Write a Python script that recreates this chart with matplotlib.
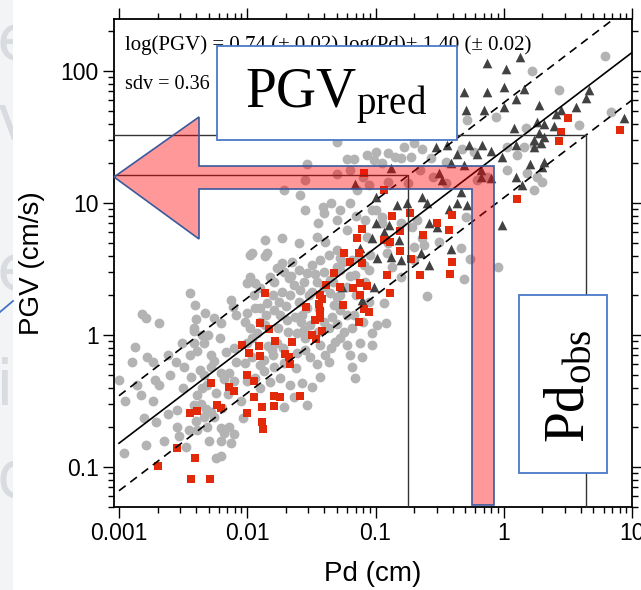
import numpy as np
import matplotlib
matplotlib.use("Agg")
import matplotlib.pyplot as plt
from matplotlib.patches import Polygon, Rectangle
from matplotlib.transforms import Affine2D
from matplotlib.lines import Line2D

plt.rcParams['mathtext.fontset'] = 'custom'
plt.rcParams['mathtext.rm'] = 'Liberation Serif'
plt.rcParams['mathtext.it'] = 'Liberation Serif:italic'

# ---------------------------------------------------------------- data (log10)
gray_log_pd = [
    -2.878, -2.896, -2.779, -2.732, -2.617, -2.557, -2.492, -2.388, -2.414, -2.505,
    -2.336, -2.349, -2.305, -2.414, -2.211, -2.284, -2.258, -2.167, -2.372, -2.341,
    -2.440, -3.000, -2.857, -2.831, -2.721, -2.685, -2.732, -2.206, -2.141, -2.180,
    -2.315, -2.245, -2.284, -2.089, -2.544, -2.388, -2.414, -2.357, -2.318, -2.284,
    -2.258, -2.336, -2.401, -2.453, -2.531, -2.388, -2.310, -2.206, -2.141, -2.102,
    -2.180, -2.128, -2.206, -2.805, -2.714, -2.792, -2.961, -2.206, -2.036, -2.245,
    -2.445, -2.409, -2.331, -2.401, -2.258, -2.206, -2.128, -2.115, -2.818, -2.792,
    -2.687, -2.419, -2.089,
    -1.977, -1.860, -1.729, -1.651, -1.769, -1.716, -1.977, -2.003, -1.938, -1.899,
    -1.821, -1.795, -1.677, -1.599, -1.534, -1.495, -1.430, -1.365, -1.300, -1.274,
    -1.456, -1.404, -1.352, -1.495, -1.586, -1.638, -1.664, -1.729, -1.847, -1.938,
    -2.003, -2.016, -1.899, -1.795, -1.977, -1.925, -1.860, -1.742, -1.690, -1.625,
    -1.573, -1.534, -1.352, -1.300, -1.326, -1.274, -1.222, -1.274, -1.183, -1.157,
    -1.091, -1.052, -1.039, -2.003, -1.964, -2.016, -1.873, -1.808, -1.769, -1.612,
    -1.560, -1.508, -1.404, -1.339, -1.365, -1.222, -1.170, -1.248, -1.274, -1.222,
    -1.313, -1.430, -1.391, -1.508, -1.547, -1.612, -1.716, -1.795, -1.873, -1.938,
    -1.821, -1.742, -1.664, -1.573, -1.495, -1.430, -1.365, -1.183, -1.157, -1.117,
    -1.026, -1.026, -0.987, -1.638, -1.716, -1.534, -1.102,
    -1.950, -1.900, -1.850, -1.800, -1.750, -1.700, -1.660, -1.600, -1.560, -1.520,
    -1.470, -1.440, -1.400, -1.330, -1.280, -1.250, -1.200, -1.150, -1.120, -1.080,
    -1.050, -1.960, -1.900, -1.840, -1.720, -1.680, -1.620, -1.550, -1.460, -1.350,
    -1.300, -1.180, -1.100, -1.200, -1.450, -1.580, -1.760, -2.000, -1.900, -1.800,
    -2.600, -2.500, -2.450, -2.350, -2.200, -2.150, -2.100, -2.050, -2.620, -2.550,
    -2.480, -2.300, -2.950, -2.650, -2.100,
    -1.300, -1.065, -1.222, -1.170, -1.013, -1.000, -1.534, -1.547, -1.300, -1.716,
    -1.586, -1.143, -1.052, -1.409, -1.399, -1.300, -1.274, -1.222, -1.456, -1.391,
    -1.860, -1.729, -1.964, -1.847, -1.078, -1.026, -1.065, -1.300,
    -1.200, -1.100, -0.950, -0.900, -0.850, -1.350, -1.200, -1.150, -1.000, -0.950,
    -1.450, -1.550, -1.600, -0.900, -0.800, -0.550, -0.450, -0.650, -0.750,
    -0.675, -0.635, -0.701, -0.622, -0.505, -0.336, -0.263, -0.310, -0.596, -0.042,
    -0.935, -0.922, -0.805, -0.870, -0.701, -0.909, -0.948, -0.714, -0.297, -0.206,
    -0.128, -0.899,
    -0.701, -0.779, -0.635, -0.805, -0.727, -0.570, -0.453, -0.323, -0.232, -0.063,
    -0.284, 0.029, 0.107, 0.029,
    0.789, 0.224, 0.432, 0.589, 0.836, 0.172, 0.159, 0.237, 0.185, 0.263,
    0.302, 0.237,
]
gray_log_pgv = [
    -0.093, -0.202, -0.164, -0.207, -0.151, -0.202, -0.245, -0.119, -0.063, -0.063,
    -0.063, 0.000, 0.000, 0.030, -0.025, -0.151, -0.194, -0.126, -0.265, -0.303,
    -0.316, -0.341, -0.379, -0.454, -0.341, -0.379, -0.497, -0.290, -0.290, -0.336,
    -0.379, -0.442, -0.240, -0.202, -0.568, -0.454, -0.530, -0.523, -0.560, -0.581,
    -0.624, -0.624, -0.649, -0.720, -0.765, -0.720, -0.694, -0.707, -0.694, -0.750,
    -0.745, -0.821, -0.800, -0.631, -0.656, -0.833, -0.896, -0.917, -0.631, -0.929,
    0.320, 0.227, 0.169, 0.118, 0.126, 0.088, 0.265, 0.214, 0.159, 0.126,
    0.088, 0.050, 0.151,
    0.606, 0.599, 0.543, 0.556, 0.505, 0.480, 0.442, 0.391, 0.391, 0.354,
    0.442, 0.404, 0.429, 0.492, 0.467, 0.530, 0.568, 0.606, 0.518, 0.581,
    0.404, 0.366, 0.417, 0.328, 0.341, 0.379, 0.303, 0.328, 0.240, 0.202,
    0.164, 0.101, 0.202, 0.189, 0.051, 0.013, 0.076, 0.152, 0.114, 0.139,
    0.152, 0.202, 0.316, 0.290, 0.227, 0.189, 0.366, 0.492, 0.568, 0.455,
    0.530, 0.492, 0.606, -0.063, -0.164, -0.215, -0.189, -0.114, -0.063, 0.013,
    0.038, 0.076, 0.101, 0.139, 0.051, 0.152, 0.152, 0.025, -0.025, -0.076,
    -0.050, -0.076, -0.151, -0.164, -0.114, -0.139, -0.215, -0.240, -0.270, -0.328,
    -0.353, -0.328, -0.379, -0.366, -0.391, -0.316, -0.202, -0.240, -0.328, -0.063,
    0.013, -0.076, 0.076, -0.467, -0.543, -0.530, -0.167,
    0.300, 0.100, 0.150, 0.300, 0.250, 0.220, 0.450, 0.250, 0.400, 0.300,
    0.460, 0.200, 0.480, 0.400, 0.300, 0.550, 0.450, 0.300, 0.580, 0.400,
    0.250, -0.020, -0.230, -0.080, -0.100, 0.020, -0.250, -0.020, -0.220, -0.100,
    0.080, 0.050, 0.100, -0.150, 0.020, 0.100, 0.050, -0.350, -0.400, -0.150,
    -0.300, -0.400, -0.150, -0.400, -0.550, -0.450, -0.350, -0.500, -0.600, -0.700,
    -0.850, -0.800, -0.500, -0.800, -0.100,
    1.465, 1.364, 1.331, 1.331, 1.326, 1.389, 1.296, 1.175, 1.220, 1.099,
    1.061, 1.099, 1.137, 0.968, 0.927, 0.872, 0.947, 0.796, 0.745, 0.707,
    0.720, 0.733, 0.624, 0.619, 0.872, 0.947, 0.745, 0.644,
    1.250, 1.200, 1.300, 1.380, 1.350, 1.000, 1.000, 0.900, 0.950, 0.850,
    0.850, 0.950, 0.700, 0.700, 0.850, 1.200, 1.150, 1.250, 1.150,
    0.871, 0.732, 0.669, 0.682, 0.707, 0.657, 0.573, 0.422, 0.295, 0.518,
    0.240, 0.088, 0.442, 0.518, 0.568, 0.619, 0.896, 0.821, 0.896, 1.174,
    1.199, 1.159,
    1.452, 1.427, 1.407, 1.339, 1.351, 1.339, 1.314, 1.407, 1.389, 1.654,
    1.629, 1.427, 1.364, 1.250,
    2.114, 2.003, 1.856, 1.591, 1.692, 1.566, 1.427, 1.440, 1.225, 1.200,
    1.162, 1.099,
]

tri_log_pd = [
    -0.987, -1.261, -1.013, -1.104,
    -1.157, -1.000, -1.000, -1.026, -1.117, -0.883,
    -0.831, -0.753, -0.635, -0.596, -0.362, -0.284, -0.427, -0.583, -0.518, -0.896,
    -0.935, -0.818, -0.883, -0.805, -0.648, -0.583, -0.414, -0.010, -0.336, -0.479,
    -0.180, -0.102, 0.094,
    -0.133, 0.016, -0.310, -0.128, 0.003, -0.297, -0.154, 0.003, 0.094, -0.271,
    -0.167, -0.531, -0.440, -0.362, -0.206, -0.102, -0.010, 0.094, -0.505, -0.180,
    -0.310, -0.414, 0.081, 0.125,
    0.159, 0.276, 0.667, 0.641, 0.563, 0.445, 0.406, 0.263, 0.315, 0.393,
    0.276, 0.315, 0.237, 0.289, 0.237, 0.146, 0.206, 0.310, 0.302, 0.935,
]
tri_log_pgv = [
    0.581, 0.366, 0.361, 0.265,
    1.144, 1.043, 0.846, 0.733, 0.657, 1.266,
    0.985, 0.997, 1.048, 0.997, 0.997, 0.985, 0.952, 0.846, 0.821, 0.833,
    0.783, 0.720, 0.593, 0.568, 0.619, 0.530, 0.649, 0.833, 1.086, 1.174,
    1.199, 1.187, 1.199,
    2.064, 2.013, 1.844, 1.844, 1.877, 1.705, 1.705, 1.725, 1.786, 1.440,
    1.440, 1.427, 1.440, 1.372, 1.372, 1.397, 1.346, 1.440, 1.230, 1.250,
    1.288, 1.301, 1.566, 2.106,
    1.862, 1.743, 1.856, 1.793, 1.725, 1.705, 1.675, 1.617, 1.599, 1.586,
    1.528, 1.503, 1.478, 1.452, 1.422, 1.137, 1.296, 1.313, 1.271, 1.642,
]

red_log_pd = [
    -2.284, -2.445, -2.393, -2.232, -2.206, -2.549, -2.409, -2.695, -2.435, -2.292,
    -2.141, -2.107, -2.005, -1.885, -1.880,
    -1.196, -1.104, -1.326, -1.383, -1.274, -1.430, -1.417, -1.443, -1.539, -1.430,
    -1.253, -1.175, -1.123, -1.065, -1.123, -1.086, -1.052, -1.130, -1.860, -1.899,
    -1.834, -1.782, -1.651, -1.469, -1.430, -1.417, -1.495, -1.461, -1.703, -1.677,
    -1.664, -1.912, -1.990, -1.899, -2.003, -1.946, -1.951, -1.795, -1.748, -1.586,
    -1.883, -1.795, -2.042,
    -1.086, -1.104, -1.143, -1.248, -1.130,
    -0.870, -0.732, -0.524, -0.427, -0.401, -0.628, -0.810, -0.930, -0.888, -0.810,
    -0.721, -0.654, -0.406, -0.422, -0.914, -0.888, 0.102, -0.930,
    0.498, 0.445, 0.432, 0.906,
]
red_log_pgv = [
    -0.361, -0.593, -0.576, -0.530, -0.555, -0.858, -0.934, -0.992, -1.093, -1.091,
    -0.391, -0.424, -0.588, -0.656, -0.712,
    0.556, 0.543, 0.467, 0.379, 0.361, 0.303, 0.270, 0.235, 0.215, 0.184,
    0.227, 0.354, 0.397, 0.371, 0.303, 0.195, 0.177, 0.101, 0.316, 0.093,
    0.043, -0.043, -0.050, 0.114, 0.126, 0.033, 0.000, -0.033, -0.144, -0.169,
    -0.220, -0.083, -0.134, -0.159, -0.303, -0.346, -0.467, -0.462, -0.467, -0.462,
    -0.548, -0.538, -0.076,
    1.225, 0.801, 0.733, 0.619, 0.624,
    0.902, 0.922, 0.846, 0.795, 0.909, 0.758, 0.790, 0.720, 0.707, 0.639,
    0.573, 0.452, 0.556, 0.462, 0.455, 0.321, 1.033, 1.098,
    1.642, 1.541, 1.473, 1.553,
]

# regression  log(PGV) = a log(Pd) + b,  standard deviation sdv
slope, intercept, sdv = 0.74, 1.40, 0.36
pd_obs = [0.18, 4.4]          # observed Pd values picked out (cm)
pd_line = [0.001, 10.0]

x_ticks = [0.001, 0.01, 0.1, 1, 10]
x_tick_labels = ["0.001", "0.01", "0.1", "1", "10"]
y_ticks = [0.1, 1, 10, 100]
y_tick_labels = ["0.1", "1", "10", "100"]

# ---------------------------------------------------------------- figure
W, H = 641, 590
fig = plt.figure(figsize=(W / 100, H / 100), dpi=100)
fig.patch.set_facecolor("white")
px = Affine2D().scale(1.0 / W, -1.0 / H).translate(0, 1) + fig.transFigure

# pale slide margin on the far left with partly hidden lettering
strip = Rectangle((0, 0), 13, H, transform=px, facecolor="#f3f4f6",
                  edgecolor="none", zorder=0)
fig.add_artist(strip)
for ch, yy in [("e", 42), ("v", 122), ("e", 272), ("i", 388), ("d", 478)]:
    t = fig.text(-4 / W, 1 - yy / H, ch, fontsize=46, color="#d8dbe0",
                 family="DejaVu Sans", ha="left", va="center", zorder=0.5)
    t.set_clip_path(strip)
fig.add_artist(Line2D([0, 13], [312, 301], transform=px, color="#4472c4",
                      lw=1.3, zorder=0.6))

ax = fig.add_axes([114 / W, 1 - 507 / H, 518 / W, 488 / H])
ax.set_xscale("log")
ax.set_yscale("log")
ax.set_xlim(10 ** -3.039, 10)
ax.set_ylim(10 ** -1.303, 10 ** 2.394)

ax.scatter(10 ** np.array(gray_log_pd), 10 ** np.array(gray_log_pgv), s=50,
           marker="o", color="#b3b3b3", linewidths=0, zorder=2)
ax.scatter(10 ** np.array(tri_log_pd), 10 ** np.array(tri_log_pgv), s=48,
           marker="^", color="#424242", linewidths=0, zorder=3)
ax.scatter(10 ** np.array(red_log_pd), 10 ** np.array(red_log_pgv), s=30,
           marker="s", color="#e2290a", linewidths=0, zorder=4)

lp = np.log10(pd_line)
fit = slope * lp + intercept
ax.plot(pd_line, 10 ** fit, color="black", lw=1.2, zorder=5)
for off in (sdv, -sdv):
    ax.plot(pd_line, 10 ** (fit + off), color="black", lw=1.2,
            ls=(0, (5, 3.5)), zorder=5)

# observed Pd -> bound of predicted PGV
xmin, _ = ax.get_xlim()
ymin, _ = ax.get_ylim()
pgv_hi = 10 ** (slope * np.log10(pd_obs[0]) + intercept + sdv)
pgv_lo = 10 ** (slope * np.log10(pd_obs[1]) + intercept - sdv)
ax.plot([xmin, pd_obs[0], pd_obs[0]], [pgv_hi, pgv_hi, ymin], color="#333333",
        lw=1.0, zorder=5.5)
ax.plot([xmin, pd_obs[1], pd_obs[1]], [pgv_lo, pgv_lo, ymin], color="#333333",
        lw=1.0, zorder=5.5)

ax.text(0.021, 0.947,
        "log(PGV) = 0.74 (\u00b1 0.02) log(Pd)+ 1.40 (\u00b1 0.02)",
        transform=ax.transAxes, family="Liberation Serif", fontsize=15,
        ha="left", va="center", zorder=6)
ax.text(0.021, 0.865, "sdv = 0.36", transform=ax.transAxes,
        family="Liberation Serif", fontsize=14.5, ha="left", va="center", zorder=6)

ax.set_xticks(x_ticks)
ax.set_xticklabels(x_tick_labels)
ax.set_yticks(y_ticks)
ax.set_yticklabels(y_tick_labels)
ax.tick_params(which="both", direction="out", top=True, right=True,
               labeltop=False, labelright=False, width=1.0, colors="black")
ax.tick_params(which="major", length=8, labelsize=16.5, pad=3)
ax.tick_params(which="minor", length=4.5)
for lab in ax.get_xticklabels() + ax.get_yticklabels():
    lab.set_family("Liberation Sans")
for sp in ax.spines.values():
    sp.set_linewidth(1.3)

ax.set_xlabel("Pd (cm)", family="Liberation Sans", fontsize=20, labelpad=11)
ax.set_ylabel("PGV (cm/s)", family="Liberation Sans", fontsize=20, labelpad=11)

# ---------------------------------------------------------------- overlays
arrow_pts = [(114, 177), (199, 117), (199, 166), (494, 166), (494, 505),
             (472, 505), (472, 189), (199, 189), (199, 239)]
fig.add_artist(Polygon(arrow_pts, closed=True, transform=px,
                       facecolor="#ff0000", alpha=0.4, edgecolor="none",
                       zorder=10))
fig.add_artist(Polygon(arrow_pts, closed=True, transform=px,
                       facecolor="none", edgecolor="#3a5a9c", lw=1.2,
                       zorder=10.5))

fig.add_artist(Rectangle((217, 46), 240, 94, transform=px, facecolor="white",
                         edgecolor="#4a78c8", lw=1.3, zorder=11))
fig.text(336 / W, 1 - 97 / H, r"$\mathrm{PGV}_{\mathrm{pred}}$",
         fontsize=40, ha="center", va="center", zorder=12)

fig.add_artist(Rectangle((519, 295), 88, 178, transform=px, facecolor="white",
                         edgecolor="#4a78c8", lw=1.3, zorder=11))
fig.text(569 / W, 1 - 386 / H, r"$\mathrm{Pd}_{\mathrm{obs}}$",
         fontsize=40, ha="center", va="center", rotation=90, zorder=12)

fig.savefig("out.png", dpi=100, facecolor="white")
